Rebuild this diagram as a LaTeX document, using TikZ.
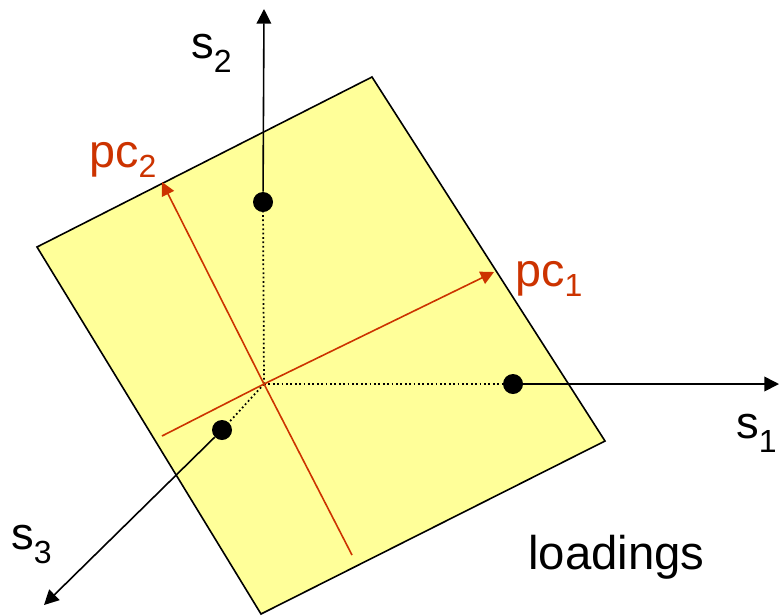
\documentclass[tikz,border=0pt]{standalone}
\usepackage{fontspec}
\setmainfont{Liberation Sans}
\usetikzlibrary{arrows.meta}
\definecolor{pcred}{RGB}{204,51,0}
\definecolor{planeyellow}{RGB}{255,255,153}
\newcommand{\lowsub}[2]{\raisebox{-#1}{\fontsize{24}{24}\selectfont #2}}
\tikzset{
  axis/.style={line width=1.2pt, -{Triangle[length=11pt,width=11pt]}},
  pcaxis/.style={line width=1.2pt, draw=pcred, -{Triangle[length=10pt,width=10pt]}},
  pcline/.style={line width=1.2pt, draw=pcred},
  proj/.style={line width=1.3pt, dotted},
  pt/.style={circle, fill=black, inner sep=0pt, minimum size=15pt},
  slabel/.style={anchor=base west, inner sep=0pt, font=\fontsize{34}{34}\selectfont},
  pclabel/.style={anchor=base west, inner sep=0pt, text=pcred, font=\fontsize{35}{35}\selectfont}
}
\begin{document}
\begin{tikzpicture}[x=0.75pt,y=-0.75pt]
\useasboundingbox (0,0) rectangle (780,615);
% plane
\draw[fill=planeyellow, line width=1.2pt, line join=miter]
  (372,77) -- (37,247) -- (261,614) -- (605,441) -- cycle;
% origin and points
\coordinate (o) at (264,384);
\node[pt] (p2) at (263,202) {};
\node[pt] (p1) at (513,384) {};
\node[pt] (p3) at (222,430) {};
\coordinate (e2) at (264,9);
\coordinate (e1) at (779,384);
\coordinate (e3) at (44,605);
% projections
\draw[proj] (o) -- (p2.center);
\draw[proj] (o) -- (p1.center);
\draw[proj] (o) -- (p3.center);
% pc axes
\coordinate (pc1s) at (162,436);
\coordinate (pc1e) at (494,272);
\coordinate (pc2s) at (352,555);
\coordinate (pc2e) at (162,182);
\draw[pcline] (pc1s) -- (o);
\draw[pcaxis] (o) -- (pc1e);
\draw[pcline] (pc2s) -- (o);
\draw[pcaxis] (o) -- (pc2e);
% sample axes
\draw[axis] (p2) -- (e2);
\draw[axis] (p1) -- (e1);
\draw[axis] (p3) -- (e3);
% labels
\node[slabel] (l2) at (191,58) {s\lowsub{11pt}{2}};
\node[slabel] (l1) at (736,438) {s\lowsub{11pt}{1}};
\node[slabel] (l3) at (11,549) {s\lowsub{11pt}{3}};
\node[pclabel] (lp2) at (89,167) {pc\lowsub{8pt}{2}};
\node[pclabel] (lp1) at (515,286) {pc\lowsub{8pt}{1}};
\node[anchor=base west, inner sep=0pt, font=\fontsize{35.5}{35.5}\selectfont] (ld) at (528,569) {loadings};
\end{tikzpicture}
\end{document}
